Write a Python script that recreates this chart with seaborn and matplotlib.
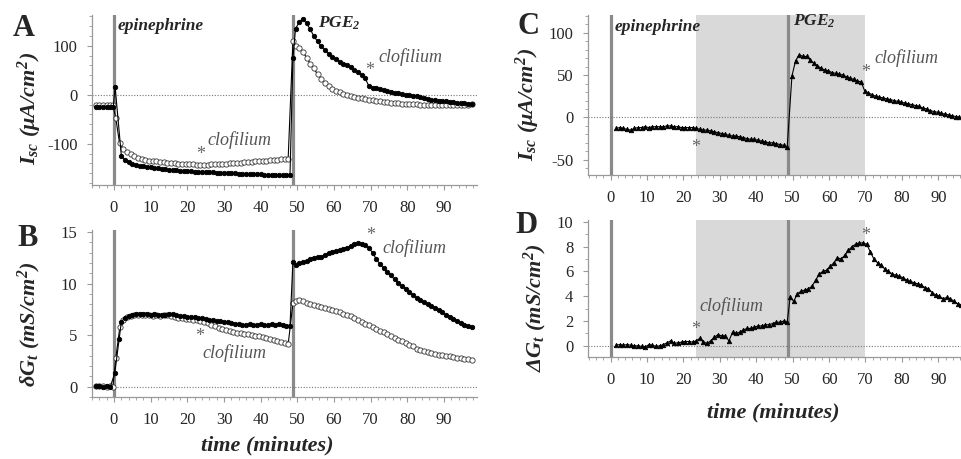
import numpy as np
import seaborn as sns
import matplotlib.pyplot as plt
from matplotlib.ticker import MultipleLocator

sns.set_style("ticks")
plt.rcParams['font.family'] = ['Liberation Serif', 'DejaVu Serif']
plt.rcParams['mathtext.fontset'] = 'custom'
plt.rcParams['mathtext.rm'] = 'Liberation Serif:bold:italic'
plt.rcParams['mathtext.it'] = 'Liberation Serif:bold:italic'
plt.rcParams['mathtext.bf'] = 'Liberation Serif:bold:italic'
plt.rcParams['axes.unicode_minus'] = False

# ---- panel A: Isc, control (filled) vs clofilium (open) ----
a_black_t = np.concatenate([[-5, -4, -3, -2, -1, -0.2, 0.3], np.arange(2, 49), [48.8], np.arange(49.5, 98)])
a_black_y = [-25, -25, -25, -25, -25, -25, 17,
             -124, -133, -138, -141, -143, -145, -146, -147, -148,
             -149, -150, -151, -152, -153, -153, -154, -155, -155, -156,
             -156, -157, -157, -157, -158, -158, -158, -159, -159, -159,
             -160, -160, -160, -161, -161, -161, -162, -162, -162, -162,
             -163, -163, -163, -163, -164, -164, -164, -164,
             75,
             135, 148, 155, 146, 134, 120, 109, 99, 91, 84,
             78, 73, 68, 64, 60, 56, 51, 46, 40, 34,
             18, 15, 13, 11, 9, 7, 6, 4, 3, 1,
             0, -1, -2, -3, -4, -6, -8, -10, -11, -12,
             -13, -13, -14, -15, -16, -17, -17, -18, -18]

a_open_t = np.concatenate([[-5, -4, -3, -2, -1, -0.3, 0.5], np.arange(1.5, 48), [48.8], np.arange(49.5, 98)])
a_open_y = [-20, -20, -20, -20, -20, -21, -48,
            -98, -110, -117, -121, -125, -128, -130, -132, -134, -135,
            -136, -137, -138, -139, -140, -140, -141, -141, -142, -142,
            -142, -143, -143, -143, -143, -142, -142, -142, -141, -141,
            -140, -140, -139, -139, -138, -137, -137, -136, -135, -135,
            -134, -133, -133, -132, -131, -131, -130,
            110,
            100, 96, 88, 76, 64, 54, 42, 33, 25, 18,
            12, 8, 5, 2, -1, -3, -4, -6, -7, -8,
            -10, -11, -12, -13, -14, -15, -16, -16, -17, -18,
            -18, -19, -19, -19, -20, -20, -20, -20, -20, -20,
            -20, -20, -20, -20, -20, -20, -20, -20, -19]

# ---- panel B: delta Gt ----
b_black_t = np.concatenate([[-5, -4, -3, -2, -1, 0.2, 1.4], np.arange(2, 49), [48.8], np.arange(49.5, 98)])
b_black_y = [0.1, 0.05, 0.0, 0.05, 0.0, 1.3, 4.6,
             6.3, 6.7, 6.9, 7.0, 7.1, 7.1, 7.1, 7.1, 7.0, 7.1,
             7.0, 7.0, 7.0, 7.1, 7.1, 7.0, 6.9, 6.9, 6.8, 6.8,
             6.8, 6.7, 6.7, 6.6, 6.5, 6.5, 6.4, 6.4, 6.3, 6.3,
             6.2, 6.1, 6.1, 6.0, 6.0, 6.1, 6.0, 6.0, 6.1, 6.0,
             6.0, 6.1, 6.0, 6.1, 6.0, 5.9, 5.9,
             12.1,
             11.8, 12.0, 12.1, 12.2, 12.4, 12.5, 12.6, 12.6, 12.8, 13.0,
             13.1, 13.2, 13.3, 13.4, 13.5, 13.6, 13.8, 13.9, 13.8, 13.7,
             13.5, 13.0, 12.4, 11.9, 11.5, 11.1, 10.8, 10.4, 10.1, 9.8,
             9.5, 9.2, 8.9, 8.6, 8.4, 8.2, 8.0, 7.8, 7.6, 7.4,
             7.2, 7.0, 6.8, 6.6, 6.4, 6.2, 6.0, 5.9, 5.8]

b_open_t = np.concatenate([[-5, -4, -3, -2, -1, -0.3, 0.5, 1.6], np.arange(2.5, 48), [48.8], np.arange(49.5, 98)])
b_open_y = [0.1, 0.1, 0.05, 0.0, 0.05, 0.0, 2.8, 5.8,
            6.5, 6.8, 6.9, 7.0, 7.0, 7.0, 7.0, 7.0, 6.9, 7.0,
            6.9, 7.0, 7.0, 6.9, 6.8, 6.7, 6.7, 6.6, 6.6, 6.5,
            6.5, 6.4, 6.3, 6.2, 6.0, 5.9, 5.7, 5.6, 5.5, 5.4,
            5.3, 5.2, 5.2, 5.1, 5.1, 5.0, 4.9, 4.9, 4.8, 4.7,
            4.6, 4.5, 4.4, 4.3, 4.2, 4.1,
            8.1,
            8.3, 8.4, 8.3, 8.1, 8.0, 7.9, 7.8, 7.7, 7.6, 7.5,
            7.4, 7.3, 7.2, 7.1, 7.0, 6.9, 6.7, 6.5, 6.3, 6.1,
            6.0, 5.8, 5.6, 5.4, 5.3, 5.1, 4.9, 4.7, 4.5, 4.4,
            4.2, 4.0, 3.9, 3.7, 3.6, 3.5, 3.4, 3.3, 3.2, 3.1,
            3.1, 3.0, 3.0, 2.9, 2.8, 2.8, 2.7, 2.7, 2.6]

# ---- panel C: Isc, clofilium during epinephrine ----
c_t = np.concatenate([np.arange(1.5, 49), np.arange(49.8, 96)])
c_y = [-13, -12, -13, -14, -15, -13, -12, -12, -11, -12,
       -11, -11, -11, -11, -10, -10, -11, -11, -12, -12,
       -12, -12, -13, -14, -15, -15, -16, -17, -18, -19,
       -20, -21, -22, -22, -23, -24, -25, -26, -26, -27,
       -28, -29, -30, -30, -31, -32, -33, -35,
       49, 67, 74, 72, 72, 68, 64, 61, 58, 56,
       55, 53, 52, 51, 50, 48, 46, 45, 43, 42,
       31, 29, 27, 25, 24, 23, 22, 21, 20, 19,
       18, 17, 16, 15, 14, 13, 11, 10, 8, 7,
       6, 5, 4, 3, 2, 1, 0.5]

# ---- panel D: Delta Gt ----
d_t = np.concatenate([np.arange(1.5, 49), np.arange(49.3, 96.5)])
d_y = [0.05, 0.1, 0.05, 0.1, 0.05, 0.0, 0.0, -0.05, -0.1, 0.1,
       0.05, -0.05, 0.0, 0.1, 0.25, 0.4, 0.2, 0.25, 0.3, 0.35,
       0.35, 0.3, 0.4, 0.6, 0.3, 0.2, 0.4, 0.7, 0.9, 0.8,
       0.8, 0.4, 1.1, 1.0, 1.1, 1.3, 1.4, 1.4, 1.5, 1.6,
       1.6, 1.7, 1.7, 1.8, 1.9, 1.9, 2.0, 1.9,
       3.9, 3.6, 4.2, 4.4, 4.5, 4.6, 4.8, 5.3, 5.8, 6.0,
       6.1, 6.4, 6.7, 7.1, 7.0, 7.3, 7.7, 8.0, 8.2, 8.3,
       8.3, 8.2, 7.6, 7.0, 6.7, 6.5, 6.2, 6.0, 5.8, 5.7,
       5.6, 5.5, 5.3, 5.2, 5.1, 5.0, 4.9, 4.7, 4.6, 4.3,
       4.1, 4.0, 3.8, 3.9, 3.8, 3.6, 3.4, 3.3]

x_ticks = [0, 10, 20, 30, 40, 50, 60, 70, 80, 90]
epi_t, pge_t = 0, 48.7
shade = (23.5, 70)

W, H = 962, 459
fig = plt.figure(figsize=(W / 100, H / 100), dpi=100)


def px_axes(l, t, r, b):
    return fig.add_axes([l / W, 1 - b / H, (r - l) / W, (b - t) / H])


def style(ax, xlim, ylim, yticks, yminor):
    ax.set_xlim(*xlim)
    ax.set_ylim(*ylim)
    ax.set_xticks(x_ticks)
    ax.set_yticks(yticks)
    ax.xaxis.set_minor_locator(MultipleLocator(2))
    ax.yaxis.set_minor_locator(MultipleLocator(yminor))
    sns.despine(ax=ax)
    for s in ['left', 'bottom']:
        ax.spines[s].set_color('#999999')
        ax.spines[s].set_linewidth(0.9)
    ax.tick_params(which='major', length=3.5, width=0.8, color='#999999', labelsize=12, pad=7)
    ax.tick_params(which='minor', length=2, width=0.6, color='#999999')
    ax.axvline(epi_t, color='#8a8a8a', lw=2.3, zorder=1)
    ax.axvline(pge_t, color='#8a8a8a', lw=2.3, zorder=1)
    ax.axhline(0, color='#777777', lw=0.8, ls=(0, (1, 1.5)), zorder=1)
    ax.set_xlabel('')
    ax.set_ylabel('')


def series(ax, t, y, marker, filled, ms):
    sns.lineplot(x=t, y=y, ax=ax, estimator=None, sort=False, color='black', lw=0.8,
                 marker=marker, markersize=ms,
                 markerfacecolor='black' if filled else 'white',
                 markeredgecolor='black' if filled else '#333333',
                 markeredgewidth=0.6, zorder=3)


def note(ax, x, y, s, **kw):
    ax.text(x, y, s, va='center', ha='left', **kw)


clo = dict(fontsize=13, fontstyle='italic', color='#555555')
star = dict(fontsize=13, color='#666666', ha='center')
drug = dict(fontsize=12.5, fontstyle='italic', fontweight='bold')

# A
axA = px_axes(92, 15, 477, 185)
style(axA, (-6, 99), (-184, 163), [-100, 0, 100], 20)
series(axA, a_open_t, a_open_y, 'o', False, 3.8)
series(axA, a_black_t, a_black_y, 'o', True, 3.2)
note(axA, 1.1, 140, 'epinephrine', **drug)
note(axA, 55.5, 146, 'PGE$_2$', **drug)
note(axA, 72, 77, 'clofilium', **clo)
axA.text(69.7, 50, '*', va='center', **star)
note(axA, 25.4, -92, 'clofilium', **clo)
axA.text(23.5, -121, '*', va='center', **star)
axA.set_ylabel(r'$I_{sc}\ (\mu A/cm^{2})$', fontsize=16, va='center')
axA.yaxis.set_label_coords((30 - 92) / 385, (185 - 108) / 170)

# B
axB = px_axes(92, 230, 477, 397)
style(axB, (-6, 99), (-1, 15.2), [0, 5, 10, 15], 1)
series(axB, b_open_t, b_open_y, 'o', False, 3.8)
series(axB, b_black_t, b_black_y, 'o', True, 3.2)
axB.text(23.3, 4.9, '*', va='center', **star)
note(axB, 24, 3.3, 'clofilium', **clo)
axB.text(70, 14.7, '*', va='center', **star)
note(axB, 73.2, 13.4, 'clofilium', **clo)
axB.set_ylabel(r'$\delta G_{t}\ (mS/cm^{2})$', fontsize=16, va='center')
axB.yaxis.set_label_coords((29 - 92) / 385, (397 - 324) / 167)
axB.set_xlabel('time (minutes)', fontsize=16, fontstyle='italic', fontweight='bold', va='center')
axB.xaxis.set_label_coords((267 - 92) / 385, (397 - 445) / 167)

# C
axC = px_axes(588, 15, 962, 175)
axC.axvspan(*shade, color='#d9d9d9', lw=0, zorder=0)
style(axC, (-6.2, 96.5), (-68, 121), [-50, 0, 50, 100], 10)
series(axC, c_t, c_y, '^', True, 3.2)
note(axC, 1.2, 107, 'epinephrine', **drug)
note(axC, 50, 113, 'PGE$_2$', **drug)
note(axC, 72.5, 70.5, 'clofilium', **clo)
axC.text(69.9, 53, '*', va='center', **star)
axC.text(23.4, -36, '*', va='center', **star)
axC.set_ylabel(r'$I_{sc}\ (\mu A/cm^{2})$', fontsize=16, va='center')
axC.yaxis.set_label_coords((528 - 588) / 374, (175 - 104) / 160)

# D
axD = px_axes(588, 220, 962, 357)
axD.axvspan(*shade, color='#d9d9d9', lw=0, zorder=0)
style(axD, (-6.2, 96.5), (-0.9, 10.15), [0, 2, 4, 6, 8, 10], 1)
series(axD, d_t, d_y, '^', True, 3.2)
note(axD, 24.5, 3.2, 'clofilium', **clo)
axD.text(23.4, 1.3, '*', va='center', **star)
axD.text(70, 8.9, '*', va='center', **star)
axD.set_ylabel(r'$\Delta G_{t}\ (mS/cm^{2})$', fontsize=16, va='center')
axD.yaxis.set_label_coords((535 - 588) / 374, (357 - 308) / 137)
axD.set_xlabel('time (minutes)', fontsize=16, fontstyle='italic', fontweight='bold', va='center')
axD.xaxis.set_label_coords((773 - 588) / 374, (357 - 412) / 137)

# panel letters
for lbl, x, y in [('A', 24, 29), ('B', 28, 238), ('C', 529, 27), ('D', 527, 226)]:
    fig.text(x / W, 1 - y / H, lbl, fontsize=22, fontweight='bold', ha='center', va='center')

fig.savefig('out.png', dpi=100)
